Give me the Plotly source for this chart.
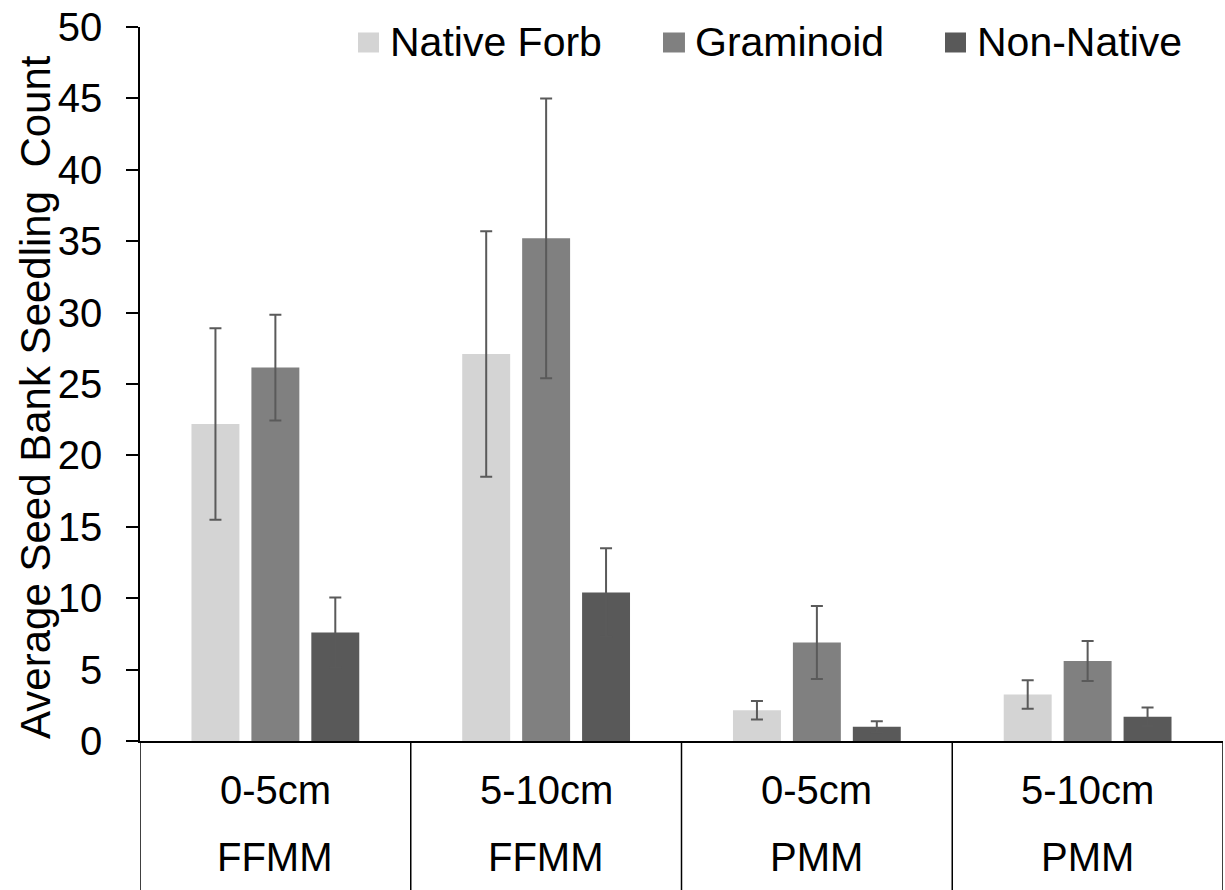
import plotly.graph_objects as go

# Depth classes and sites along the x axis
depths = ["0-5cm", "5-10cm", "0-5cm", "5-10cm"]
sites = ["FFMM", "FFMM", "PMM", "PMM"]

# Mean seedling counts per functional group
native_forb = [22.2, 27.1, 2.15, 3.25]
graminoid = [26.15, 35.2, 6.9, 5.6]
non_native = [7.6, 10.4, 1.0, 1.7]

# Standard errors
native_forb_se = [6.7, 8.6, 0.65, 1.0]
graminoid_se = [3.7, 9.8, 2.55, 1.4]
non_native_se = [2.45, 3.1, 0.38, 0.65]

series_names = ["Native Forb", "Graminoid", "Non-Native"]
series_colors = ["#d4d4d4", "#808080", "#595959"]
y_ticks = [0, 5, 10, 15, 20, 25, 30, 35, 40, 45, 50]

FONT = "Liberation Sans, Arial, sans-serif"
FS = 40
positions = list(range(len(depths)))

fig = go.Figure()
for name, vals, se, col in zip(
    series_names,
    [native_forb, graminoid, non_native],
    [native_forb_se, graminoid_se, non_native_se],
    series_colors,
):
    fig.add_trace(go.Bar(
        x=positions, y=vals, name=name, showlegend=False,
        marker=dict(color=col, line=dict(width=0)),
        error_y=dict(type="data", array=se, visible=True,
                     color="#5a5a5a", thickness=2, width=6),
    ))

# category dividers running below the axis
shapes = []
for b in [-0.5, 0.5, 1.5, 2.5, 3.5]:
    shapes.append(dict(type="line", xref="x", yref="paper",
                       x0=b, x1=b, y0=0, y1=-0.2088,
                       line=dict(color="black", width=1.5)))

annotations = []
for i, (d, s) in enumerate(zip(depths, sites)):
    annotations.append(dict(x=i, y=-0.0687, xref="x", yref="paper", text=d,
                            showarrow=False, yanchor="middle",
                            font=dict(family=FONT, size=FS, color="black")))
    annotations.append(dict(x=i, y=-0.1626, xref="x", yref="paper", text=s,
                            showarrow=False, yanchor="middle",
                            font=dict(family=FONT, size=FS, color="black")))

# legend row: swatch + label for each series
legend_swatch_x = [(0.2013, 0.2207), (0.4829, 0.5032), (0.7433, 0.7627)]
legend_text_x = [0.2290, 0.5107, 0.7711]
for name, col, (sx0, sx1), tx in zip(series_names, series_colors,
                                     legend_swatch_x, legend_text_x):
    shapes.append(dict(type="rect", xref="paper", yref="paper",
                       x0=sx0, x1=sx1, y0=0.9643, y1=0.9923,
                       fillcolor=col, line=dict(width=0)))
    annotations.append(dict(x=tx, y=0.9783, xref="paper", yref="paper",
                            text=name, showarrow=False, xanchor="left",
                            yanchor="middle",
                            font=dict(family=FONT, size=41, color="black")))

# y-axis title
annotations.append(dict(x=-0.0960, y=0.482, xref="paper", yref="paper",
                        text="Average Seed Bank Seedling\u00a0 Count",
                        textangle=-90, showarrow=False,
                        xanchor="center", yanchor="middle",
                        font=dict(family=FONT, size=42, color="black")))

fig.update_layout(
    width=1225, height=890,
    margin=dict(l=140, r=2, t=27, b=149),
    paper_bgcolor="white", plot_bgcolor="white",
    barmode="group", bargap=0.336, bargroupgap=0.2,
    font=dict(family=FONT, size=FS, color="black"),
    showlegend=False,
    shapes=shapes, annotations=annotations,
    xaxis=dict(range=[-0.5, 3.5], showticklabels=False, ticks="",
               showgrid=False, zeroline=False, showline=True,
               linecolor="black", linewidth=1.5),
    yaxis=dict(range=[0, 50], tickvals=y_ticks, ticks="outside", ticklen=12,
               tickwidth=1.5, tickcolor="black", showgrid=False, zeroline=False,
               showline=True, linecolor="black", linewidth=1.5,
               ticklabelstandoff=16,
               tickfont=dict(family=FONT, size=FS, color="black")),
)

fig.write_html("out.html")
